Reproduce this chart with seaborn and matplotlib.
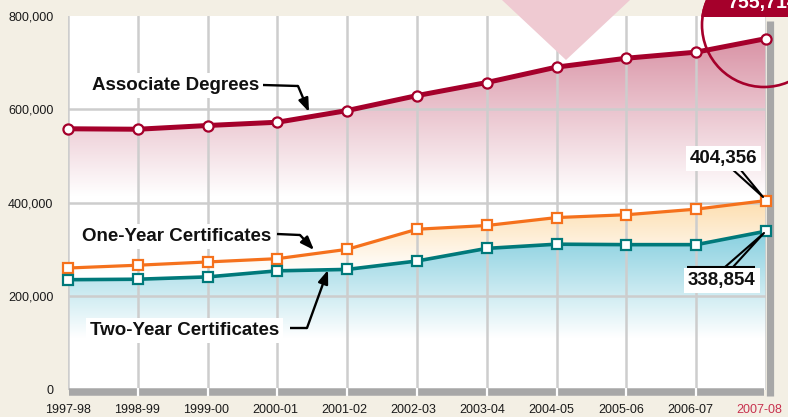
import numpy as np
import pandas as pd
import matplotlib.pyplot as plt
import seaborn as sns
from matplotlib.patches import Polygon, Ellipse, Rectangle
from matplotlib.colors import to_rgb

years = ['1997-98', '1998-99', '1999-00', '2000-01', '2001-02', '2002-03',
         '2003-04', '2004-05', '2005-06', '2006-07', '2007-08']
associate = [558000, 557000, 565000, 572000, 597000, 629000, 657000, 690000, 709000, 722000, 751000]
one_year = [260000, 266000, 273000, 280000, 300000, 343000, 351000, 368000, 374000, 386000, 404356]
two_year = [235000, 236000, 241000, 254000, 257000, 275000, 302000, 311000, 310000, 310000, 338854]
y_ticks = [0, 200000, 400000, 600000, 800000]
y_labels = ['0', '200,000', '400,000', '600,000', '800,000']

W, H = 788, 417
BG = '#F3EFE4'
CRIMSON = '#A5002B'
ORANGE = '#F5711C'
TEAL = '#00797A'
GRAY = '#A7A7A7'

sns.set_theme(style='white')
plt.rcParams['font.family'] = ['Liberation Sans', 'DejaVu Sans']

df = pd.DataFrame({'year': years, 'Associate Degrees': associate,
                   'One-Year Certificates': one_year, 'Two-Year Certificates': two_year})
df['pos'] = range(len(years))


def fp(x, y):
    # figure pixel (from top-left) -> figure fraction
    return (x / W, 1 - y / H)


fig = plt.figure(figsize=(W / 100, H / 100), dpi=100, facecolor=BG)
ax = fig.add_axes([68 / W, 1 - 389.5 / H, 698 / W, (389.5 - 15.7) / H])
ax.set_facecolor('white')


def gradient_fill(lower, upper, color, y_lo, y_hi):
    poly = ax.fill_between(df['pos'], lower, upper, facecolor='none', edgecolor='none')
    rgb = np.array(to_rgb(color))
    t = np.linspace(0, 1, 256)
    img = np.ones((256, 1, 4))
    img[:, 0, :3] = 1 - t[:, None] * (1 - rgb)
    im = ax.imshow(img, extent=[0, 10, y_lo, y_hi], origin='lower', aspect='auto',
                   zorder=1, interpolation='bilinear')
    im.set_clip_path(poly.get_paths()[0], transform=ax.transData)


gradient_fill(0, df['Associate Degrees'], '#D890A3', 415000, 760000)
gradient_fill(df['Two-Year Certificates'], df['One-Year Certificates'], '#FDDEAF', 250000, 405000)
gradient_fill(0, df['Two-Year Certificates'], '#86CFDF', 110000, 340000)

# pink chevron at the top
tri = Polygon([fp(502, 0), fp(630, 0), fp(566, 60)], closed=True, transform=fig.transFigure,
              facecolor='#EFCAD2', edgecolor='none', clip_on=False, zorder=1.8)
ax.add_patch(tri)

series = [('Associate Degrees', CRIMSON, 'o', 3.6),
          ('One-Year Certificates', ORANGE, 's', 2.3),
          ('Two-Year Certificates', TEAL, 's', 2.6)]
for col, color, marker, lw in series:
    sns.lineplot(data=df, x='pos', y=col, color=color, lw=lw, marker=marker, markersize=7.3,
                 markerfacecolor='white', markeredgecolor=color, markeredgewidth=1.6,
                 ax=ax, zorder=3)
for ln in ax.lines:
    ln.set_clip_on(False)

ax.set_xlim(0, 10)
ax.set_ylim(0, 800000)
ax.set_xticks(df['pos'])
ax.tick_params(axis='x', length=0, labelbottom=False)
# year labels sit a touch left of their gridlines in the original
for i, yr in enumerate(years):
    ax.text(i * 0.99, -0.0548, yr, transform=ax.get_xaxis_transform(), ha='center', va='center',
            fontsize=9, color='#C8324F' if i == len(years) - 1 else '#1a1a1a')
ax.set_yticks(y_ticks)
ax.set_yticklabels(y_labels, fontsize=9, color='#1a1a1a')
ax.tick_params(axis='y', length=6, width=1.6, color='white', pad=4.5)
ax.set_xlabel('')
ax.set_ylabel('')
for s in ax.spines.values():
    s.set_visible(False)
ax.grid(True, color='#CDCDCD', lw=1.8)
ax.set_axisbelow('line')
gl = ax.get_ygridlines()
gl[0].set_visible(False)
gl[-1].set_visible(False)


def fig_line(xs, ys, **kw):
    ax.plot([x / W for x in xs], [1 - y / H for y in ys], transform=fig.transFigure,
            clip_on=False, solid_capstyle='butt', **kw)


# gray frame bars
fig_line([69, 764], [391.7, 391.7], color=GRAY, lw=5.4, zorder=2.5)
fig_line([769.5, 769.5], [21, 395.7], color=GRAY, lw=5.2, zorder=2.5)
ax.vlines(range(1, 10), -14000, 4000, color='white', lw=1.6, zorder=2.6, clip_on=False)

# circle callout, top right
circ = Ellipse(fp(764, 25), 124 / W, 124 / H, transform=fig.transFigure, fill=False,
               edgecolor=CRIMSON, lw=1.9, clip_on=False, zorder=4)
ax.add_patch(circ)
cap = Ellipse(fp(764, 25), 124 / W, 124 / H, transform=fig.transFigure, facecolor=CRIMSON,
              edgecolor=CRIMSON, lw=1.9, zorder=4)
ax.add_patch(cap)
cap.set_clip_path(Rectangle(fp(0, 17), 1, 17 / H, transform=fig.transFigure))
fig.text(*fp(727, 8), '755,714', color='white', fontsize=14, fontweight='bold',
         ha='left', va='baseline')

# series labels with leader arrows
box = dict(boxstyle='square,pad=0.2', facecolor='white', edgecolor='none')
lab_kw = dict(fontsize=13.5, fontweight='bold', color='#111111', ha='left', va='baseline')
fig.text(*fp(92, 90), 'Associate Degrees', bbox=box, **lab_kw)
fig.text(*fp(82, 241), 'One-Year Certificates', bbox=box, **lab_kw)
fig.text(*fp(90, 335), 'Two-Year Certificates', bbox=box, **lab_kw)

arrow = dict(arrowstyle='-|>,head_length=0.8,head_width=0.3', mutation_scale=10,
             lw=1.7, color='black', shrinkA=0, shrinkB=0)
for line_x, line_y, tip in [([263, 298], [85, 86], (309, 112)),
                            ([277, 300], [234, 235], (314, 250)),
                            ([290, 307], [328, 328], (328, 270))]:
    fig_line(line_x, line_y, color='black', lw=1.7, zorder=5)
    ax.annotate('', xy=fp(*tip), xytext=fp(line_x[-1], line_y[-1]), xycoords='figure fraction',
                arrowprops=arrow, zorder=5, annotation_clip=False)

# value callouts
num_kw = dict(fontsize=13.5, fontweight='bold', color='#111111', ha='center', va='baseline', bbox=box)
fig.text(*fp(723.5, 163), '404,356', **num_kw)
fig.text(*fp(722, 285), '338,854', **num_kw)
fig_line([692, 758], [169, 169], color='black', lw=1.5, zorder=5)
fig_line([732, 763, 740], [169, 197, 169], color='black', lw=1.5, zorder=5)
fig_line([687, 755], [267, 267], color='black', lw=1.5, zorder=5)
fig_line([725, 764, 733], [267, 233, 267], color='black', lw=1.5, zorder=5)

fig.savefig('out.png', dpi=100, facecolor=BG)
